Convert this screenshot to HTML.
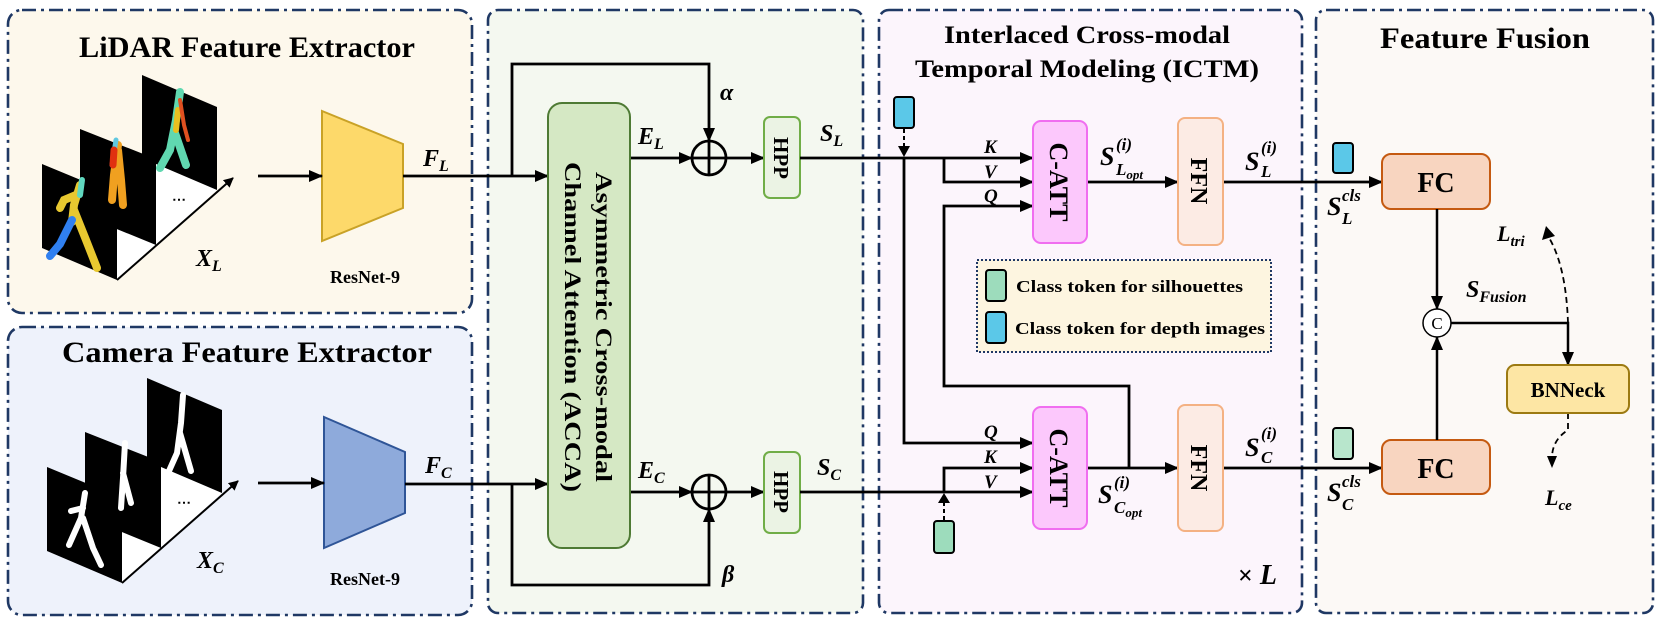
<!DOCTYPE html>
<html><head><meta charset="utf-8"><style>
html,body{margin:0;padding:0;background:#fff}
svg{display:block}
text{font-family:"Liberation Serif",serif;font-weight:bold;fill:#000}
.m{font-style:italic}
</style></head><body>
<svg width="1662" height="623" viewBox="0 0 1662 623" xmlns="http://www.w3.org/2000/svg">
<defs>
<marker id="a" markerUnits="userSpaceOnUse" markerWidth="14" markerHeight="12" refX="13" refY="6" orient="auto"><path d="M0,0 L14,6 L0,12 z" fill="#000"/></marker>
<marker id="s" markerUnits="userSpaceOnUse" markerWidth="10" markerHeight="10" refX="9" refY="5" orient="auto"><path d="M0,0 L10,5 L0,10 z" fill="#000"/></marker>
</defs>
<g stroke="#1f3864" stroke-width="2.6" stroke-dasharray="14,5,3,5">
<rect x="8" y="10" width="464" height="303" rx="14" fill="#fdf8ec"/>
<rect x="8" y="327" width="464" height="288" rx="14" fill="#eef2fb"/>
<rect x="488" y="10" width="375" height="603" rx="10" fill="#f4f8f0"/>
<rect x="879" y="10" width="423" height="603" rx="10" fill="#fcf5fc"/>
<rect x="1316" y="10" width="337" height="603" rx="10" fill="#fcf9f6"/>
</g>
<text x="247" y="57" font-size="30" text-anchor="middle" textLength="336" lengthAdjust="spacingAndGlyphs">LiDAR Feature Extractor</text>
<text x="247" y="362" font-size="30" text-anchor="middle" textLength="370" lengthAdjust="spacingAndGlyphs">Camera Feature Extractor</text>
<text x="1087" y="43" font-size="25" text-anchor="middle" textLength="286" lengthAdjust="spacingAndGlyphs">Interlaced Cross-modal</text>
<text x="1087" y="77" font-size="25" text-anchor="middle" textLength="344" lengthAdjust="spacingAndGlyphs">Temporal Modeling (ICTM)</text>
<text x="1485" y="48" font-size="30" text-anchor="middle" textLength="210" lengthAdjust="spacingAndGlyphs">Feature Fusion</text>

<g>
<polygon points="117,280 217,190 142,158 117,168" fill="#fff"/>
<polygon points="142,75 217,107 217,190 142,158" fill="#000"/>
<polygon points="80,129 156,159 156,245 80,214" fill="#000"/>
<polygon points="42,164 117,195 117,280 42,248" fill="#000"/>
<line x1="117" y1="280" x2="233" y2="178" stroke="#000" stroke-width="2" marker-end="url(#s)"/>
<text x="172" y="204" font-size="14">⋯</text>
</g>
<g fill="none" stroke-linecap="round" stroke-width="8">
<path d="M180,92 L176,120 L170,150 L160,168 M174,130 L186,165" stroke="#60d8b0"/>
<path d="M178,110 L176,130" stroke="#e8c020" stroke-width="6"/>
<path d="M180,100 L184,125 L188,140" stroke="#e05020" stroke-width="4"/>
<path d="M118,145 L114,175 L112,200 M118,150 L121,180 L123,205" stroke="#f0a020"/>
<path d="M116,140 L112,165" stroke="#60c8e0" stroke-width="5"/>
<path d="M114,150 L113,165" stroke="#e03010" stroke-width="7"/>
<path d="M80,185 L74,205 L72,222 M76,195 L64,200 L60,208 M74,210 L86,240 L97,268" stroke="#e8c830"/>
<path d="M82,180 L80,195" stroke="#60d8c0" stroke-width="6"/>
<path d="M72,220 L60,244 L50,256" stroke="#3080f0"/>
</g>

<g transform="translate(5,303)">
<polygon points="117,280 217,190 142,158 117,168" fill="#fff"/>
<polygon points="142,75 217,107 217,190 142,158" fill="#000"/>
<polygon points="80,129 156,159 156,245 80,214" fill="#000"/>
<polygon points="42,164 117,195 117,280 42,248" fill="#000"/>
<line x1="117" y1="280" x2="233" y2="178" stroke="#000" stroke-width="2" marker-end="url(#s)"/>
<text x="172" y="204" font-size="14">⋯</text>
<g fill="none" stroke="#fff" stroke-linecap="round" stroke-width="6">
<path d="M178,92 L176,120 L172,150 L164,168 M175,130 L186,168"/>
<path d="M120,140 L118,175 L116,205 M118,170 L126,200"/>
<path d="M80,190 L76,215 L64,242 M78,205 L66,208 M78,215 L88,245 L96,262"/>
</g>
</g>

<polygon points="322,111 403,144 403,208 322,241" fill="#fdd96a" stroke="#c9a227" stroke-width="2"/>
<polygon points="324,417 405,452 405,513 324,548" fill="#8eaadb" stroke="#2f5597" stroke-width="2"/>
<text x="365" y="283" font-size="18" text-anchor="middle">ResNet-9</text>
<text x="365" y="585" font-size="18" text-anchor="middle">ResNet-9</text>
<text class="m" x="196" y="266" font-size="24">X<tspan font-size="16" dy="5">L</tspan></text>
<text class="m" x="197" y="568" font-size="24">X<tspan font-size="16" dy="5">C</tspan></text>
<text class="m" x="423" y="166" font-size="24">F<tspan font-size="16" dy="5">L</tspan></text>
<text class="m" x="425" y="473" font-size="24">F<tspan font-size="16" dy="5">C</tspan></text>

<g stroke="#000" stroke-width="2.8" fill="none">
<line x1="258" y1="176" x2="322" y2="176" marker-end="url(#a)"/>
<line x1="258" y1="483" x2="324" y2="483" marker-end="url(#a)"/>
<line x1="403" y1="176" x2="548" y2="176" marker-end="url(#a)"/>
<line x1="405" y1="484" x2="548" y2="484" marker-end="url(#a)"/>
<polyline points="512,176 512,64 709,64 709,141" marker-end="url(#a)"/>
<polyline points="512,484 512,585 709,585 709,509" marker-end="url(#a)"/>
<line x1="630" y1="158" x2="692" y2="158" marker-end="url(#a)"/>
<line x1="630" y1="492" x2="692" y2="492" marker-end="url(#a)"/>
<line x1="726" y1="158" x2="764" y2="158" marker-end="url(#a)"/>
<line x1="726" y1="492" x2="764" y2="492" marker-end="url(#a)"/>
<circle cx="709" cy="158" r="17"/><line x1="692" y1="158" x2="726" y2="158"/><line x1="709" y1="141" x2="709" y2="175"/>
<circle cx="709" cy="492" r="17"/><line x1="692" y1="492" x2="726" y2="492"/><line x1="709" y1="475" x2="709" y2="509"/>
</g>
<rect x="548" y="103" width="82" height="445" rx="14" fill="#d5e8c4" stroke="#4e7a34" stroke-width="2"/>
<text transform="translate(596,327) rotate(90)" font-size="23" text-anchor="middle" textLength="310" lengthAdjust="spacingAndGlyphs">Asymmetric Cross-modal</text>
<text transform="translate(565,327) rotate(90)" font-size="23" text-anchor="middle" textLength="330" lengthAdjust="spacingAndGlyphs">Channel Attention (ACCA)</text>
<rect x="764" y="117" width="36" height="81" rx="6" fill="#ebf3e4" stroke="#70ad47" stroke-width="2"/>
<rect x="764" y="452" width="36" height="81" rx="6" fill="#ebf3e4" stroke="#70ad47" stroke-width="2"/>
<text transform="translate(774,158) rotate(90)" font-size="21" text-anchor="middle">HPP</text>
<text transform="translate(774,492) rotate(90)" font-size="21" text-anchor="middle">HPP</text>
<text class="m" x="638" y="144" font-size="24">E<tspan font-size="16" dy="5">L</tspan></text>
<text class="m" x="638" y="478" font-size="24">E<tspan font-size="16" dy="5">C</tspan></text>
<text class="m" x="820" y="141" font-size="24">S<tspan font-size="16" dy="5">L</tspan></text>
<text class="m" x="817" y="475" font-size="24">S<tspan font-size="16" dy="5">C</tspan></text>
<text class="m" x="720" y="100" font-size="24">α</text>
<text class="m" x="722" y="582" font-size="24">β</text>

<g stroke="#000" stroke-width="2.8" fill="none">
<line x1="800" y1="158" x2="1033" y2="158" marker-end="url(#a)"/>
<polyline points="944,158 944,182 1033,182" marker-end="url(#a)"/>
<polyline points="904,158 904,443 1033,443" marker-end="url(#a)"/>
<polyline points="1129,468 1129,386 944,386 944,206 1033,206" marker-end="url(#a)"/>
<line x1="800" y1="492" x2="1033" y2="492" marker-end="url(#a)"/>
<polyline points="944,492 944,468 1033,468" marker-end="url(#a)"/>
<line x1="1087" y1="182" x2="1178" y2="182" marker-end="url(#a)"/>
<line x1="1087" y1="468" x2="1178" y2="468" marker-end="url(#a)"/>
<line x1="1223" y1="182" x2="1382" y2="182" marker-end="url(#a)"/>
<line x1="1223" y1="468" x2="1382" y2="468" marker-end="url(#a)"/>
</g>
<g stroke="#000" stroke-width="2" fill="none" stroke-dasharray="4,3">
<line x1="904" y1="129" x2="904" y2="150"/>
<line x1="944" y1="520" x2="944" y2="500"/>
</g>
<path d="M898,146 L910,146 L904,157 z"/><path d="M938,503 L950,503 L944,493 z"/>
<rect x="894" y="97" width="20" height="31" rx="3" fill="#5bc8e8" stroke="#000" stroke-width="2"/>
<rect x="934" y="521" width="20" height="32" rx="3" fill="#9ddcbc" stroke="#000" stroke-width="2"/>
<rect x="1033" y="121" width="54" height="122" rx="8" fill="#fcc8fc" stroke="#f06ef0" stroke-width="2"/>
<rect x="1033" y="407" width="54" height="122" rx="8" fill="#fcc8fc" stroke="#f06ef0" stroke-width="2"/>
<rect x="1178" y="118" width="45" height="127" rx="7" fill="#fcebe4" stroke="#f4b183" stroke-width="2"/>
<rect x="1178" y="405" width="45" height="126" rx="7" fill="#fcebe4" stroke="#f4b183" stroke-width="2"/>
<text transform="translate(1050,182) rotate(90)" font-size="26" text-anchor="middle">C-ATT</text>
<text transform="translate(1050,468) rotate(90)" font-size="26" text-anchor="middle">C-ATT</text>
<text transform="translate(1191,181) rotate(90)" font-size="24" text-anchor="middle">FFN</text>
<text transform="translate(1191,468) rotate(90)" font-size="24" text-anchor="middle">FFN</text>
<text class="m" x="984" y="153" font-size="19">K</text><text class="m" x="984" y="178" font-size="19">V</text><text class="m" x="984" y="202" font-size="19">Q</text>
<text class="m" x="984" y="438" font-size="19">Q</text><text class="m" x="984" y="463" font-size="19">K</text><text class="m" x="984" y="488" font-size="19">V</text>
<text class="m" x="1100" y="165" font-size="26">S</text><text class="m" x="1116" y="150" font-size="17">(i)</text><text class="m" x="1116" y="175" font-size="17">L<tspan font-size="13" dy="4">opt</tspan></text>
<text class="m" x="1098" y="503" font-size="26">S</text><text class="m" x="1114" y="488" font-size="17">(i)</text><text class="m" x="1114" y="513" font-size="17">C<tspan font-size="13" dy="4">opt</tspan></text>
<text class="m" x="1245" y="170" font-size="26">S</text><text class="m" x="1261" y="153" font-size="17">(i)</text><text class="m" x="1261" y="177" font-size="17">L</text>
<text class="m" x="1245" y="456" font-size="26">S</text><text class="m" x="1261" y="439" font-size="17">(i)</text><text class="m" x="1261" y="463" font-size="17">C</text>
<text x="1238" y="584" font-size="26">×<tspan class="m" font-size="28"> L</tspan></text>
<rect x="977" y="260" width="294" height="92" fill="#fdf5e0" stroke="#1f3864" stroke-width="2" stroke-dasharray="2,2"/>
<rect x="986" y="270" width="20" height="31" rx="3" fill="#9ddcbc" stroke="#000" stroke-width="2"/>
<rect x="986" y="312" width="20" height="31" rx="3" fill="#5bc8e8" stroke="#000" stroke-width="2"/>
<text x="1016" y="292" font-size="17" textLength="227" lengthAdjust="spacingAndGlyphs">Class token for silhouettes</text>
<text x="1015" y="334" font-size="17" textLength="250" lengthAdjust="spacingAndGlyphs">Class token for depth images</text>

<rect x="1333" y="143" width="20" height="30" rx="3" fill="#5bc8e8" stroke="#000" stroke-width="2"/>
<rect x="1333" y="428" width="20" height="31" rx="3" fill="#b8e6cc" stroke="#000" stroke-width="2"/>
<rect x="1382" y="154" width="108" height="55" rx="9" fill="#f8d5c0" stroke="#c55a11" stroke-width="2"/>
<rect x="1382" y="440" width="108" height="54" rx="9" fill="#f8d5c0" stroke="#c55a11" stroke-width="2"/>
<text x="1436" y="192" font-size="28" text-anchor="middle">FC</text>
<text x="1436" y="478" font-size="28" text-anchor="middle">FC</text>
<text class="m" x="1327" y="215" font-size="26">S</text><text class="m" x="1342" y="201" font-size="17">cls</text><text class="m" x="1342" y="224" font-size="17">L</text>
<text class="m" x="1327" y="501" font-size="26">S</text><text class="m" x="1342" y="487" font-size="17">cls</text><text class="m" x="1342" y="510" font-size="17">C</text>
<g stroke="#000" stroke-width="2.5" fill="none">
<line x1="1437" y1="209" x2="1437" y2="309" marker-end="url(#a)"/>
<line x1="1437" y1="440" x2="1437" y2="337" marker-end="url(#a)"/>
<polyline points="1451,323 1568,323 1568,365" marker-end="url(#a)"/>
<circle cx="1437" cy="323" r="14" fill="#fff" stroke-width="1.5"/>
</g>
<text x="1437" y="329" font-size="17" text-anchor="middle" style="font-weight:normal">C</text>
<g stroke="#000" stroke-width="1.8" fill="none" stroke-dasharray="6,4">
<path d="M1568,323 Q1566,265 1548,236"/>
<path d="M1568,413 L1568,430 Q1552,440 1552,458"/>
</g>
<path d="M1542,240 L1546,226 L1555,236 z"/>
<path d="M1547,456 L1557,456 L1552,468 z"/>
<rect x="1507" y="365" width="122" height="48" rx="8" fill="#fde6a4" stroke="#9c7a12" stroke-width="2"/>
<text x="1568" y="397" font-size="21" text-anchor="middle">BNNeck</text>
<text class="m" x="1497" y="241" font-size="22">L<tspan font-size="15" dy="5">tri</tspan></text>
<text class="m" x="1466" y="297" font-size="24">S<tspan font-size="16" dy="5">Fusion</tspan></text>
<text class="m" x="1545" y="505" font-size="22">L<tspan font-size="15" dy="5">ce</tspan></text>
</svg>
</body></html>
